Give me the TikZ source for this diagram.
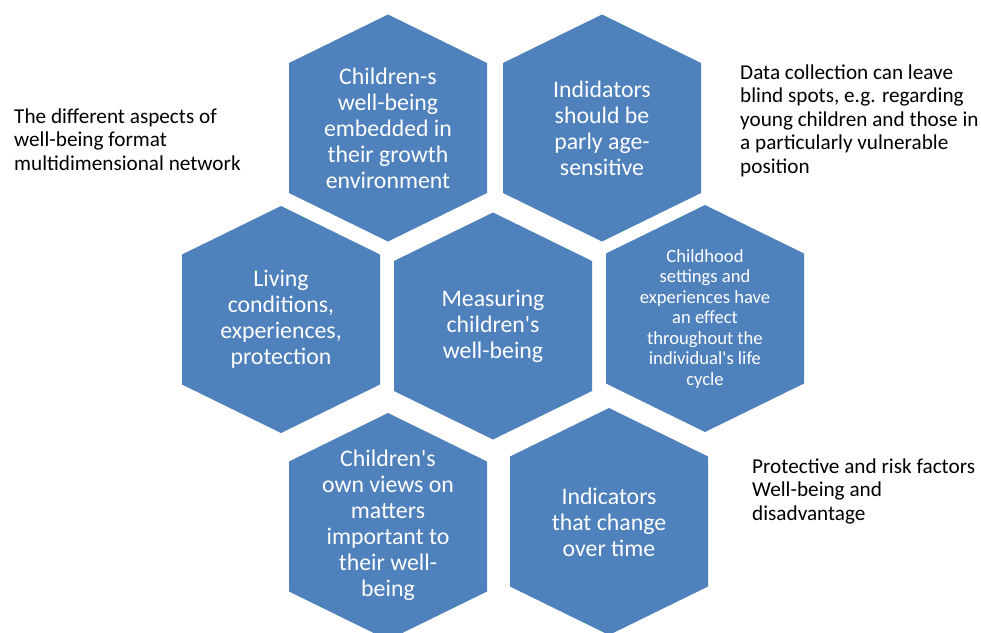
\documentclass[tikz,border=0pt]{standalone}
\usepackage{fontspec}
\setmainfont{Carlito}
\definecolor{hexblue}{HTML}{4F81BD}
\newcommand\apos{\textquotesingle}
\begin{document}
\begin{tikzpicture}[x=1pt,y=-1pt,
  hexfill/.style={fill=hexblue},
  hextext/.style={text=white, align=center, inner sep=0pt, font=\fontsize{23.8}{26}\selectfont},
  smalltext/.style={text=white, align=center, inner sep=0pt, font=\fontsize{18.6}{20.5}\selectfont},
  note/.style={text=black, align=left, anchor=base west, inner sep=0pt, font=\fontsize{21.2}{23.5}\selectfont}]
\useasboundingbox (0,0) rectangle (981,632);
\clip (0,0) rectangle (981,632);
% a SmartArt-style hexagon around a centre point, pointing up and down
\newcommand\hexcell[1]{%
  \fill[hexfill] #1 ++(0,-113.5) -- ++(99,48.5) -- ++(0,130) -- ++(-99,48.5)
    -- ++(-99,-48.5) -- ++(0,-130) -- cycle;}

\hexcell{(388,128)}
\hexcell{(602,128)}
\hexcell{(281,319.5)}
\hexcell{(493,326)}
\hexcell{(705,318.5)}
\hexcell{(388,526.5)}
\hexcell{(609,521.5)}

\node[hextext] (embedded) at (388,128) {Children-s\\well-being\\embedded in\\their growth\\environment};
\node[hextext] (agesens) at (602,128) {Indidators\\should be\\parly age-\\sensitive};
\node[hextext] (living) at (281,319.5) {Living\\conditions,\\experiences,\\protection};
\node[hextext] (measuring) at (493,326) {Measuring\\children\apos s\\well-being};
\node[smalltext] (lifecycle) at (705,319) {Childhood\\settings and\\experiences have\\an effect\\throughout the\\individual\apos s life\\cycle};
\node[hextext] (ownviews) at (388,525) {Children\apos s\\own views on\\matters\\important to\\their well-\\being};
\node[hextext] (overtime) at (609,522) {Indicators\\that change\\over time};

% the base anchor of a multi-line note sits on its last line
\node[note] (network) at (14,170) {The different aspects of\\well-being format\\multidimensional network};
\node[note] (blindspots) at (740,173) {Data collection can leave\\blind spots, e.g. regarding\\young children and those in\\a particularly vulnerable\\position};
\node[note] (factors) at (752,520) {Protective and risk factors\\Well-being and\\disadvantage};
\end{tikzpicture}
\end{document}
